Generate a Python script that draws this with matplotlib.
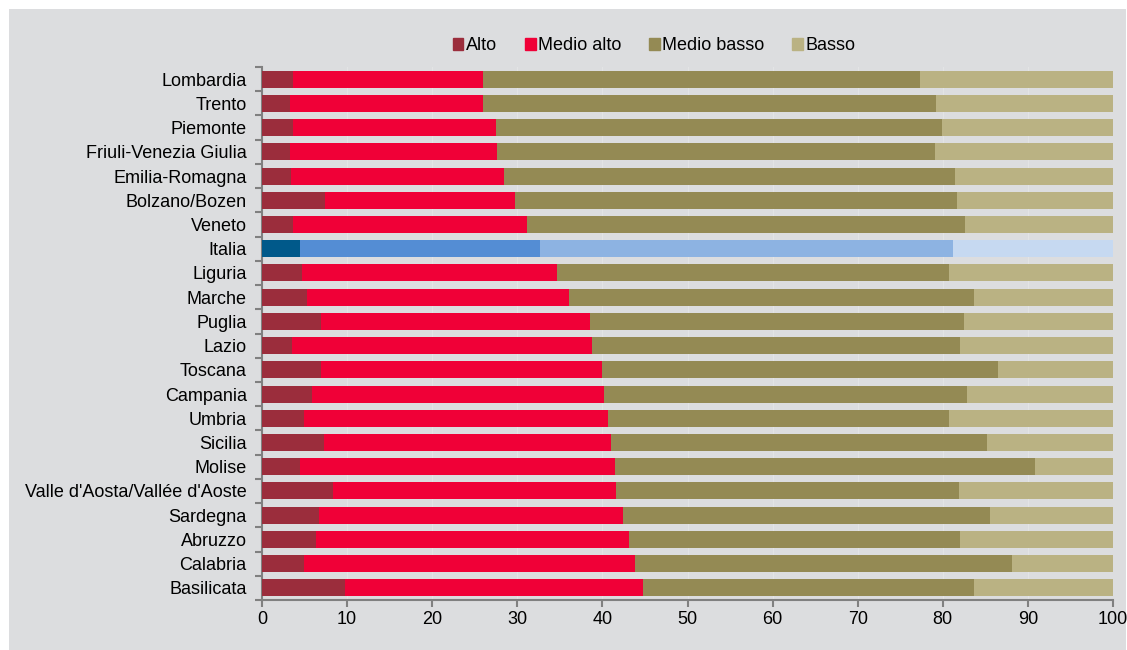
import matplotlib.pyplot as plt
from matplotlib.patches import Rectangle

# Regioni (dall'alto verso il basso) e quote per livello (%)
regioni = ["Lombardia", "Trento", "Piemonte", "Friuli-Venezia Giulia", "Emilia-Romagna",
           "Bolzano/Bozen", "Veneto", "Italia", "Liguria", "Marche", "Puglia", "Lazio",
           "Toscana", "Campania", "Umbria", "Sicilia", "Molise",
           "Valle d'Aosta/Vallée d'Aoste", "Sardegna", "Abruzzo", "Calabria", "Basilicata"]

alto = [3.7, 3.3, 3.6, 3.3, 3.4, 7.4, 3.7, 4.5, 4.7, 5.3, 6.9,
        3.5, 6.9, 5.9, 4.9, 7.3, 4.5, 8.3, 6.7, 6.4, 4.9, 9.8]
medio_alto = [22.3, 22.7, 23.9, 24.3, 25.0, 22.3, 27.4, 28.2, 30.0, 30.8, 31.6,
              35.3, 33.0, 34.3, 35.8, 33.7, 37.0, 33.3, 35.7, 36.7, 38.9, 35.0]
medio_basso = [51.3, 53.2, 52.4, 51.5, 53.0, 52.0, 51.5, 48.5, 46.0, 47.6, 44.0,
               43.2, 46.6, 42.6, 40.0, 44.2, 49.3, 40.3, 43.1, 38.9, 44.3, 38.9]
basso = [22.7, 20.8, 20.1, 20.9, 18.6, 18.3, 17.4, 18.8, 19.3, 16.3, 17.5,
         18.0, 13.5, 17.2, 19.3, 14.8, 9.2, 18.1, 14.5, 18.0, 11.9, 16.3]

serie = ["Alto", "Medio alto", "Medio basso", "Basso"]
colori = ["#9b2d3c", "#f00037", "#948a54", "#bab283"]
colori_italia = ["#00598a", "#548dd4", "#8db3e2", "#c6d9f1"]

bg = "#dcdddf"
plt.rcParams["font.family"] = ["Liberation Sans", "DejaVu Sans"]

fig = plt.figure(figsize=(11.27, 6.5), dpi=100)
fig.patches.append(Rectangle((9 / 1127, 0), 1117 / 1127, 641 / 650,
                             transform=fig.transFigure, facecolor=bg,
                             edgecolor="none", zorder=-10))
ax = fig.add_axes([262 / 1127, 50 / 650, 851 / 1127, 533 / 650])
ax.set_facecolor(bg)

pos = list(range(len(regioni)))
left = [0.0] * len(regioni)
for valori, nome, i in zip([alto, medio_alto, medio_basso, basso], serie, range(4)):
    cols = [colori_italia[i] if r == "Italia" else colori[i] for r in regioni]
    ax.barh(pos, valori, left=left, height=0.7, color=cols, label=nome, zorder=3)
    left = [a + b for a, b in zip(left, valori)]

ax.set_xlim(0, 100)
ax.set_ylim(len(regioni) - 0.5, -0.5)
ax.set_xticks(range(0, 101, 10))
ax.set_yticks(pos)
ax.set_yticklabels(regioni)
ax.set_yticks([p - 0.5 for p in pos] + [len(regioni) - 0.5], minor=True)
ax.tick_params(axis="y", which="major", length=0, pad=11, labelsize=13)
ax.tick_params(axis="y", which="minor", length=5, width=1.5, color="#808080", direction="out")
ax.tick_params(axis="x", length=5, width=1.5, color="#808080", labelsize=13, pad=3)

for s in ["top", "right"]:
    ax.spines[s].set_visible(False)
for s in ["left", "bottom"]:
    ax.spines[s].set_color("#808080")
    ax.spines[s].set_linewidth(1.5)

ax.grid(axis="x", color="#e3e4e5", linewidth=0.8, zorder=0)

leg = fig.legend(loc="center", bbox_to_anchor=(654 / 1127, 1 - 46 / 650), ncol=4,
                 frameon=False, fontsize=13, handlelength=0.6, handleheight=0.6,
                 handletextpad=0.12, columnspacing=1.55)
for h, c in zip(leg.legend_handles, colori):
    h.set_color(c)

fig.savefig("out.png", dpi=100, facecolor="white")
